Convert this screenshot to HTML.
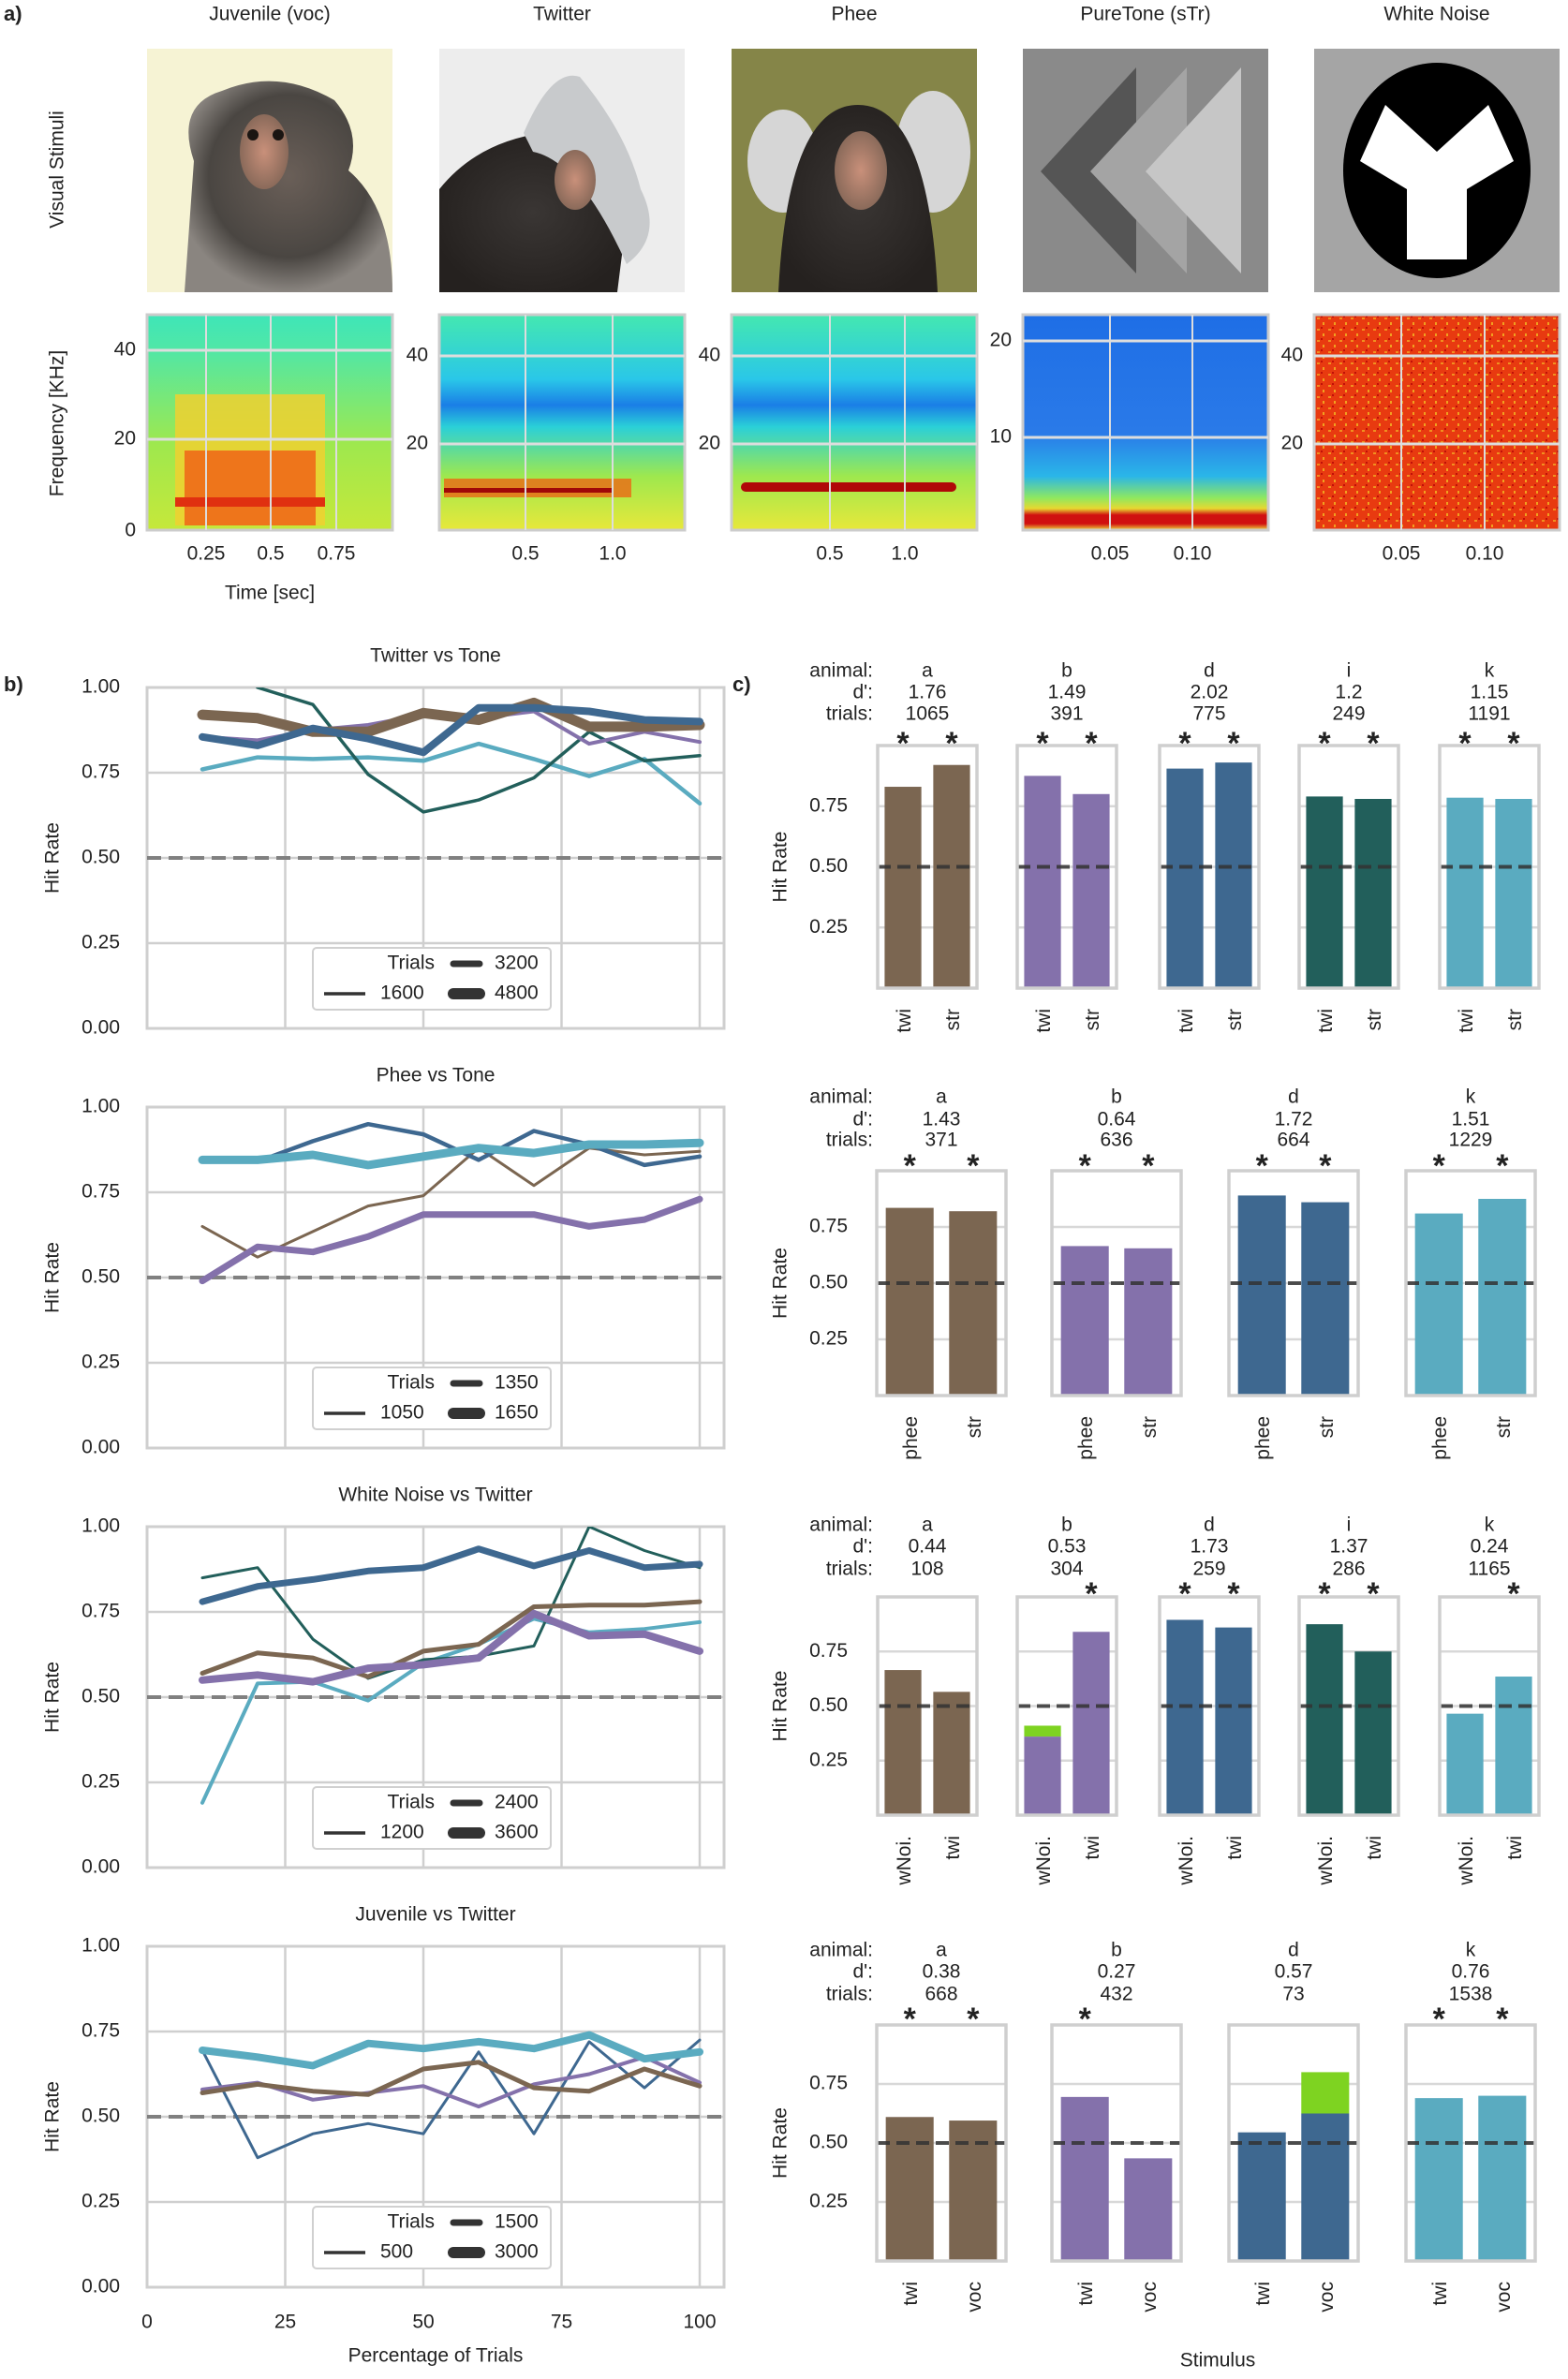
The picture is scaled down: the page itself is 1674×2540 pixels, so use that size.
<!DOCTYPE html>
<html><head><meta charset="utf-8">
<style>
html,body{margin:0;padding:0;background:#fff;}
svg{display:block;font-family:"Liberation Sans",Arial,sans-serif;}
</style></head>
<body>
<svg id="fig" width="1674" height="2540" viewBox="0 0 1674 2540" xmlns="http://www.w3.org/2000/svg">
<defs>
<radialGradient id="fur1" cx="50%" cy="45%" r="55%"><stop offset="0" stop-color="#6a5f58"/><stop offset="0.7" stop-color="#4a4642"/><stop offset="1" stop-color="#8a8580"/></radialGradient>
<radialGradient id="fur2" cx="50%" cy="50%" r="55%"><stop offset="0" stop-color="#3a3634"/><stop offset="1" stop-color="#25211f"/></radialGradient>
<radialGradient id="face" cx="50%" cy="50%" r="50%"><stop offset="0" stop-color="#c9907a"/><stop offset="1" stop-color="#8a6a5a"/></radialGradient>
<linearGradient id="sp1" x1="0" y1="0" x2="0" y2="1"><stop offset="0" stop-color="#3ee6b8"/><stop offset="0.15" stop-color="#4fe7a8"/><stop offset="0.6" stop-color="#9ee84e"/><stop offset="1" stop-color="#c6e83a"/></linearGradient>
<linearGradient id="sp2" x1="0" y1="0" x2="0" y2="1"><stop offset="0" stop-color="#44e8b0"/><stop offset="0.3" stop-color="#2ac7e8"/><stop offset="0.42" stop-color="#1a7ee6"/><stop offset="0.52" stop-color="#2ad0d8"/><stop offset="0.75" stop-color="#9ee84e"/><stop offset="1" stop-color="#e8e83a"/></linearGradient>
<linearGradient id="sp4" x1="0" y1="0" x2="0" y2="1"><stop offset="0" stop-color="#1e6ee6"/><stop offset="0.55" stop-color="#2a7ae8"/><stop offset="0.75" stop-color="#2ab6e8"/><stop offset="0.85" stop-color="#8ee860"/><stop offset="0.9" stop-color="#e8d830"/><stop offset="0.93" stop-color="#d01010"/><stop offset="0.97" stop-color="#d01010"/><stop offset="1" stop-color="#f0e040"/></linearGradient>
<pattern id="noise" width="12" height="12" patternUnits="userSpaceOnUse"><rect width="12" height="12" fill="#e83a10"/><rect x="2" y="3" width="3" height="2" fill="#f09020"/><rect x="8" y="8" width="2" height="3" fill="#f0a020"/><rect x="6" y="1" width="2" height="2" fill="#c01008"/></pattern>
</defs>
<g id="panelA"></g>
<g id="panelB"></g>
<g id="panelC"></g>
</svg>
<script>
// ---------- Panel b data ----------
const pctTrials = [10,20,30,40,50,60,70,80,90,100];
const bTitles = ["Twitter vs Tone","Phee vs Tone","White Noise vs Twitter","Juvenile vs Twitter"];
const bLegend1 = ["1600","3200","4800"];
const bLegend2 = ["1050","1350","1650"];
const bLegend3 = ["1200","2400","3600"];
const bLegend4 = ["500","1500","3000"];
// plot 1
const twTone_brown = [0.92,0.91,0.87,0.87,0.925,0.905,0.955,0.885,0.885,0.89];
const twTone_purple = [0.855,0.845,0.875,0.89,0.92,0.91,0.93,0.835,0.87,0.84];
const twTone_blue = [0.855,0.83,0.88,0.85,0.81,0.94,0.94,0.93,0.905,0.90];
const twTone_teal = [null,1.0,0.95,0.745,0.635,0.67,0.735,0.87,0.785,0.80];
const twTone_light = [0.76,0.795,0.79,0.795,0.785,0.835,0.79,0.74,0.79,0.66];
// plot 2
const phTone_brown = [0.65,0.56,0.635,0.71,0.74,0.88,0.77,0.88,0.86,0.87];
const phTone_purple = [0.49,0.59,0.575,0.62,0.685,0.685,0.685,0.65,0.67,0.73];
const phTone_blue = [0.84,0.84,0.9,0.95,0.92,0.845,0.93,0.89,0.83,0.855];
const phTone_light = [0.845,0.845,0.86,0.83,0.855,0.88,0.865,0.89,0.89,0.895];
// plot 3
const wnTw_brown = [0.57,0.63,0.615,0.56,0.635,0.655,0.765,0.77,0.77,0.78];
const wnTw_purple = [0.55,0.565,0.545,0.585,0.595,0.615,0.745,0.68,0.685,0.635];
const wnTw_blue = [0.78,0.825,0.845,0.87,0.88,0.935,0.885,0.93,0.88,0.89];
const wnTw_teal = [0.85,0.88,0.67,0.555,0.61,0.62,0.65,1.0,0.93,0.88];
const wnTw_light = [0.19,0.54,0.545,0.49,0.60,0.655,0.73,0.69,0.70,0.72];
// plot 4
const juTw_brown = [0.57,0.595,0.575,0.565,0.64,0.66,0.585,0.575,0.64,0.59];
const juTw_purple = [0.58,0.60,0.55,0.57,0.59,0.53,0.595,0.625,0.675,0.60];
const juTw_blue = [0.695,0.38,0.45,0.48,0.45,0.69,0.45,0.72,0.585,0.725];
const juTw_light = [0.695,0.675,0.65,0.715,0.70,0.72,0.70,0.74,0.67,0.69];
const xTickLabels = ["0","25","50","75","100"];
const xTickValues = [0,25,50,75,100];
const yTickValues = [0,0.25,0.5,0.75,1.0];
const yTickLabels = ["0.00","0.25","0.50","0.75","1.00"];

// ---------- Panel c data ----------
const r1Animals = ["a","b","d","i","k"];
const r1Dp = ["1.76","1.49","2.02","1.2","1.15"];
const r1Trials = ["1065","391","775","249","1191"];
const r1Cats = ["twi","str"];
const r1A = [0.83,0.875,0.905,0.79,0.785];
const r1B = [0.92,0.80,0.93,0.78,0.78];
const r1StarA = [1,1,1,1,1];
const r1StarB = [1,1,1,1,1];
const r2Animals = ["a","b","d","k"];
const r2Dp = ["1.43","0.64","1.72","1.51"];
const r2Trials = ["371","636","664","1229"];
const r2Cats = ["phee","str"];
const r2A = [0.835,0.665,0.89,0.81];
const r2B = [0.82,0.655,0.86,0.875];
const r2StarA = [1,1,1,1];
const r2StarB = [1,1,1,1];
const r3Animals = ["a","b","d","i","k"];
const r3Dp = ["0.44","0.53","1.73","1.37","0.24"];
const r3Trials = ["108","304","259","286","1165"];
const r3Cats = ["wNoi.","twi"];
const r3A = [0.665,0.36,0.895,0.875,0.465];
const r3B = [0.565,0.84,0.86,0.75,0.635];
const r3GreenA = [0,0.41,0,0,0];
const r3GreenB = [0,0,0,0,0];
const r3StarA = [0,0,1,1,0];
const r3StarB = [0,1,1,1,1];
const r4Animals = ["a","b","d","k"];
const r4Dp = ["0.38","0.27","0.57","0.76"];
const r4Trials = ["668","432","73","1538"];
const r4Cats = ["twi","voc"];
const r4A = [0.61,0.695,0.545,0.69];
const r4B = [0.595,0.435,0.625,0.70];
const r4GreenA = [0,0,0,0];
const r4GreenB = [0,0,0.80,0];
const r4StarA = [1,1,0,1];
const r4StarB = [1,0,0,1];
const cTicks = [0.25,0.5,0.75];
const cTickLabels = ["0.25","0.50","0.75"];

const NS = "http://www.w3.org/2000/svg";
function mk(tag, attrs, parent){
  const e = document.createElementNS(NS, tag);
  for (const k in attrs) e.setAttribute(k, attrs[k]);
  parent.appendChild(e);
  return e;
}
function txt(parent, x, y, s, size, anchor, extra){
  const t = mk("text", Object.assign({x:x, y:y, "font-size":size, "text-anchor":anchor||"middle", fill:"#222", "dominant-baseline":"middle"}, extra||{}), parent);
  t.textContent = s;
  return t;
}
const COL = {brown:"#7b6651", purple:"#8471ab", blue:"#3e6890", teal:"#225f5b", light:"#5aabc0"};

// ================= PANEL A =================
const A = document.getElementById("panelA");
let t = txt(A, 4, 16, "a)", 22, "start", {"font-weight":"bold"});


const colX = [157, 469, 781, 1092, 1403];
const colW = 262;
const colTitles = ["Juvenile (voc)","Twitter","Phee","PureTone (sTr)","White Noise"];
colTitles.forEach((s,i)=>{
  const e = txt(A, colX[i]+colW/2, 16, s, 21, "middle");
  
  
});
t = txt(A, 62, 181, "Visual Stimuli", 21, "middle", {transform:"rotate(-90 62 181)"});


t = txt(A, 62, 452, "Frequency [KHz]", 21, "middle", {transform:"rotate(-90 62 452)"});


t = txt(A, 288, 634, "Time [sec]", 21, "middle");



const iy = 52, ih = 260;
// image 1 juvenile
let g = mk("g", {}, A);


mk("rect",{x:colX[0],y:iy,width:colW,height:ih,fill:"#f6f3d4"},g);
mk("path",{d:`M${colX[0]+40} ${iy+260} L${colX[0]+50} ${iy+120} Q${colX[0]+30} ${iy+60} ${colX[0]+80} ${iy+45} Q${colX[0]+140} ${iy+20} ${colX[0]+200} ${iy+55} Q${colX[0]+230} ${iy+90} ${colX[0]+215} ${iy+130} Q${colX[0]+262} ${iy+170} ${colX[0]+262} ${iy+260} Z`,fill:"url(#fur1)"},g);
mk("ellipse",{cx:colX[0]+125,cy:iy+110,rx:26,ry:40,fill:"url(#face)"},g);
mk("circle",{cx:colX[0]+113,cy:iy+92,r:6,fill:"#1a1512"},g);
mk("circle",{cx:colX[0]+140,cy:iy+92,r:6,fill:"#1a1512"},g);
// image 2 twitter
g = mk("g", {}, A);


mk("rect",{x:colX[1],y:iy,width:colW,height:ih,fill:"#ededed"},g);
mk("path",{d:`M${colX[1]} ${iy+260} L${colX[1]} ${iy+150} Q${colX[1]+40} ${iy+100} ${colX[1]+110} ${iy+90} Q${colX[1]+180} ${iy+110} ${colX[1]+200} ${iy+180} L${colX[1]+190} ${iy+260} Z`,fill:"url(#fur2)"},g);
mk("path",{d:`M${colX[1]+90} ${iy+90} Q${colX[1]+120} ${iy+20} ${colX[1]+150} ${iy+30} Q${colX[1]+200} ${iy+90} ${colX[1]+215} ${iy+150} Q${colX[1]+240} ${iy+200} ${colX[1]+200} ${iy+230} Q${colX[1]+150} ${iy+120} ${colX[1]+100} ${iy+110} Z`,fill:"#c8cacc"},g);
mk("ellipse",{cx:colX[1]+145,cy:iy+140,rx:22,ry:32,fill:"url(#face)"},g);
// image 3 phee
g = mk("g", {}, A);


mk("rect",{x:colX[2],y:iy,width:colW,height:ih,fill:"#858548"},g);
mk("ellipse",{cx:colX[2]+55,cy:iy+120,rx:38,ry:55,fill:"#d6d6d6"},g);
mk("ellipse",{cx:colX[2]+215,cy:iy+110,rx:40,ry:65,fill:"#d6d6d6"},g);
mk("path",{d:`M${colX[2]+50} ${iy+260} Q${colX[2]+60} ${iy+60} ${colX[2]+135} ${iy+60} Q${colX[2]+210} ${iy+60} ${colX[2]+220} ${iy+260} Z`,fill:"url(#fur2)"},g);
mk("ellipse",{cx:colX[2]+138,cy:iy+130,rx:28,ry:42,fill:"url(#face)"},g);
// image 4 pure tone
g = mk("g", {}, A);


mk("rect",{x:colX[3],y:iy,width:colW,height:ih,fill:"#8a8a8a"},g);
const cx0 = colX[3];
const chTop = iy+20, chBot = iy+240, chMid = iy+131;
mk("polygon",{points:`${cx0+121},${chTop} ${cx0+19},${chMid} ${cx0+121},${chBot}`,fill:"#555"},g);
mk("polygon",{points:`${cx0+175},${chTop} ${cx0+72},${chMid} ${cx0+175},${chBot}`,fill:"#a4a4a4"},g);
mk("polygon",{points:`${cx0+233},${chTop} ${cx0+131},${chMid} ${cx0+233},${chBot}`,fill:"#c6c6c6"},g);
// image 5 white noise
g = mk("g", {}, A);


mk("rect",{x:colX[4],y:iy,width:colW,height:ih,fill:"#a5a5a5"},g);
const c5 = colX[4]+131;
mk("ellipse",{cx:c5,cy:iy+130,rx:100,ry:115,fill:"#000"},g);
mk("path",{d:`M${c5-55} ${iy+60} L${c5} ${iy+110} L${c5+55} ${iy+60} L${c5+82} ${iy+120} L${c5+32} ${iy+150} L${c5+32} ${iy+225} L${c5-32} ${iy+225} L${c5-32} ${iy+150} L${c5-82} ${iy+120} Z`,fill:"#fff"},g);

// spectrograms
const sy = 336, sh = 230;
const specFill = ["url(#sp1)","url(#sp2)","url(#sp2)","url(#sp4)","url(#noise)"];
const specYT = [[["40",374],["20",469],["0",567]],[["40",380],["20",474]],[["40",380],["20",474]],[["20",364],["10",467]],[["40",380],["20",474]]];
const specXT = [[["0.25",220],["0.5",289],["0.75",359]],[["0.5",561],["1.0",654]],[["0.5",886],["1.0",966]],[["0.05",1185],["0.10",1273]],[["0.05",1496],["0.10",1585]]];
for (let i=0;i<5;i++){
  const sg = mk("g", {}, A);
  
  
  mk("rect",{x:colX[i],y:sy,width:colW,height:sh,fill:specFill[i],stroke:"#ccc","stroke-width":3},sg);
  if (i===0){
    mk("rect",{x:colX[0]+30,y:sy+85,width:160,height:140,fill:"#f0d030",opacity:0.85},sg);
    mk("rect",{x:colX[0]+40,y:sy+145,width:140,height:80,fill:"#ee6a18",opacity:0.9},sg);
    mk("rect",{x:colX[0]+30,y:sy+195,width:160,height:10,fill:"#e03010"},sg);
  }
  if (i===1){
    mk("rect",{x:colX[1]+5,y:sy+175,width:200,height:20,fill:"#e87018",opacity:0.85},sg);
    mk("rect",{x:colX[1]+5,y:sy+185,width:180,height:5,fill:"#a00808"},sg);
  }
  if (i===2){
    mk("rect",{x:colX[2]+10,y:sy+179,width:230,height:10,rx:5,fill:"#b00808"},sg);
  }
  specXT[i].forEach(p=>mk("line",{x1:p[1],x2:p[1],y1:sy,y2:sy+sh,stroke:"#ddd","stroke-width":2},sg));
  specYT[i].forEach(p=>{ if(p[0]!=="0") mk("line",{x1:colX[i],x2:colX[i]+colW,y1:p[1],y2:p[1],stroke:"#ddd","stroke-width":3},sg); });
  specYT[i].forEach(p=>txt(sg, colX[i]-12, p[1], p[0], 21, "end"));
  specXT[i].forEach(p=>txt(sg, p[1], 592, p[0], 21, "middle"));
}

// ================= PANEL B =================
const B = document.getElementById("panelB");
t = txt(B, 4, 732, "b)", 22, "start", {"font-weight":"bold"});


const bX0 = 157, bXs = 5.9, bRight = 773, bUnit = 364;
const bTops = [734,1182,1630,2078];
function bx(v){ return bX0 + bXs*v; }
const bSeries = [
  [[twTone_light,COL.light,4.5],[twTone_teal,COL.teal,3.5],[twTone_purple,COL.purple,4],[twTone_brown,COL.brown,11],[twTone_blue,COL.blue,8]],
  [[phTone_brown,COL.brown,3],[phTone_purple,COL.purple,7],[phTone_blue,COL.blue,4.5],[phTone_light,COL.light,9]],
  [[wnTw_light,COL.light,4],[wnTw_teal,COL.teal,3],[wnTw_brown,COL.brown,5],[wnTw_purple,COL.purple,8],[wnTw_blue,COL.blue,7]],
  [[juTw_blue,COL.blue,3],[juTw_purple,COL.purple,4],[juTw_brown,COL.brown,5],[juTw_light,COL.light,8]]
];
const bLegends = [bLegend1,bLegend2,bLegend3,bLegend4];
const seriesNames = {};
seriesNames[COL.brown]="animal-a"; seriesNames[COL.purple]="animal-b"; seriesNames[COL.blue]="animal-d"; seriesNames[COL.teal]="animal-i"; seriesNames[COL.light]="animal-k";
for (let p=0;p<4;p++){
  const top = bTops[p];
  const by = v => top + (1-v)*bUnit;
  const pg = mk("g", {}, B);
  
  
  const tt = txt(pg, 465, top-33, bTitles[p], 21, "middle");
  
  
  mk("clipPath",{id:"clip"+p},pg);
  mk("rect",{x:bX0,y:top,width:bRight-bX0,height:bUnit},pg.lastChild);
  xTickValues.forEach(v=>{ if(v>0) mk("line",{x1:bx(v),x2:bx(v),y1:top,y2:top+bUnit,stroke:"#cfcfcf","stroke-width":2.5},pg); });
  yTickValues.forEach(v=>{ if(v>0&&v<1) mk("line",{x1:bX0,x2:bRight,y1:by(v),y2:by(v),stroke:"#cfcfcf","stroke-width":2.5},pg); });
  mk("rect",{x:bX0,y:top,width:bRight-bX0,height:bUnit,fill:"none",stroke:"#cfcfcf","stroke-width":3},pg);
  yTickValues.forEach((v,i)=>txt(pg, 128, by(v), yTickLabels[i], 21, "end"));
  if (p===3) xTickValues.forEach((v,i)=>txt(pg, bx(v), 2480, xTickLabels[i], 21, "middle"));
  const yl = txt(pg, 57, top+bUnit/2, "Hit Rate", 21, "middle", {transform:`rotate(-90 57 ${top+bUnit/2})`});
  
  
  mk("line",{x1:bX0,x2:bRight,y1:by(0.5),y2:by(0.5),stroke:"#808080","stroke-width":4,"stroke-dasharray":"15 8"},pg);
  const lg = mk("g",{"clip-path":`url(#clip${p})`},pg);
  bSeries[p].forEach(s=>{
    const arr = s[0]; let d = "";
    arr.forEach((v,i)=>{ if(v===null) return; d += (d===""?"M":"L") + bx(pctTrials[i]).toFixed(1) + " " + by(v).toFixed(1) + " "; });
    const path = mk("path",{d:d,fill:"none",stroke:s[1],"stroke-width":s[2],"stroke-linejoin":"round","stroke-linecap":"round"},lg);
    
    
  });
  const ly = top + 278;
  const leg = mk("g",{},pg);
  
  
  mk("rect",{x:334,y:ly,width:254,height:66,rx:4,fill:"#fff",stroke:"#d0d0d0","stroke-width":2},leg);
  txt(leg, 464, ly+17, "Trials", 21, "end");
  mk("line",{x1:484,x2:512,y1:ly+17,y2:ly+17,stroke:"#333","stroke-width":7,"stroke-linecap":"round"},leg);
  txt(leg, 528, ly+17, bLegends[p][1], 21, "start");
  mk("line",{x1:346,x2:390,y1:ly+49,y2:ly+49,stroke:"#333","stroke-width":3.5},leg);
  txt(leg, 406, ly+49, bLegends[p][0], 21, "start");
  mk("line",{x1:484,x2:512,y1:ly+49,y2:ly+49,stroke:"#333","stroke-width":12,"stroke-linecap":"round"},leg);
  txt(leg, 528, ly+49, bLegends[p][2], 21, "start");
}
t = txt(B, 465, 2516, "Percentage of Trials", 21, "middle");



// ================= PANEL C =================
const C = document.getElementById("panelC");
t = txt(C, 782, 732, "c)", 22, "start", {"font-weight":"bold"});


const left5 = [937,1086,1238,1387,1537], left4 = [936,1123,1312,1501];
const colors5 = [COL.brown,COL.purple,COL.blue,COL.teal,COL.light];
const colors4 = [COL.brown,COL.purple,COL.blue,COL.light];
const rows = [
  {top:796,bot:1055,lefts:left5,w:106,an:r1Animals,dp:r1Dp,tr:r1Trials,cats:r1Cats,A:r1A,B:r1B,gA:null,gB:null,sA:r1StarA,sB:r1StarB,hy:[717,740,763],sy:792,cols:colors5},
  {top:1250,bot:1490,lefts:left4,w:138,an:r2Animals,dp:r2Dp,tr:r2Trials,cats:r2Cats,A:r2A,B:r2B,gA:null,gB:null,sA:r2StarA,sB:r2StarB,hy:[1172,1196,1218],sy:1243,cols:colors4},
  {top:1705,bot:1938,lefts:left5,w:106,an:r3Animals,dp:r3Dp,tr:r3Trials,cats:r3Cats,A:r3A,B:r3B,gA:r3GreenA,gB:r3GreenB,sA:r3StarA,sB:r3StarB,hy:[1629,1652,1676],sy:1700,cols:colors5},
  {top:2162,bot:2414,lefts:left4,w:138,an:r4Animals,dp:r4Dp,tr:r4Trials,cats:r4Cats,A:r4A,B:r4B,gA:r4GreenA,gB:r4GreenB,sA:r4StarA,sB:r4StarB,hy:[2083,2106,2130],sy:2154,cols:colors4}
];
rows.forEach((R,ri)=>{
  const rg = mk("g",{},C);
  
  
  const unit = R.bot - R.top;
  const cy = v => R.bot - v*unit;
  txt(rg, 932, R.hy[0], "animal:", 21, "end");
  txt(rg, 932, R.hy[1], "d':", 21, "end");
  txt(rg, 932, R.hy[2], "trials:", 21, "end");
  cTicks.forEach((v,i)=>txt(rg, 905, cy(v), cTickLabels[i], 21, "end"));
  const yl = txt(rg, 834, (R.top+R.bot)/2, "Hit Rate", 21, "middle", {transform:`rotate(-90 834 ${(R.top+R.bot)/2})`});
  
  
  R.lefts.forEach((L,k)=>{
    const sg = mk("g",{},rg);
    
    
    const W = R.w, cx = L + W/2;
    txt(sg, cx, R.hy[0], R.an[k], 21, "middle");
    txt(sg, cx, R.hy[1], R.dp[k], 21, "middle");
    txt(sg, cx, R.hy[2], R.tr[k], 21, "middle");
    cTicks.forEach(v=>mk("line",{x1:L,x2:L+W,y1:cy(v),y2:cy(v),stroke:"#d8d8d8","stroke-width":2.5},sg));
    const bw = W*0.37, xa = L + W*0.07, xb = L + W*0.56;
    const vals = [R.A[k], R.B[k]], xs = [xa, xb], greens = [R.gA?R.gA[k]:0, R.gB?R.gB[k]:0], stars=[R.sA[k],R.sB[k]];
    for (let j=0;j<2;j++){
      if (greens[j]>0){
        const gr = mk("rect",{x:xs[j],y:cy(greens[j]),width:bw,height:cy(vals[j])-cy(greens[j]),fill:"#7ed321"},sg);
        
        
      }
      const br = mk("rect",{x:xs[j],y:cy(vals[j]),width:bw,height:R.bot-cy(vals[j]),fill:R.cols[k]},sg);
      
      
      if (stars[j]){ const st = txt(sg, xs[j]+bw/2, R.sy+4, "*", 34, "middle", {"font-weight":"bold"});   }
      const xl = xs[j]+bw/2 + 8, yl2 = R.bot + 22;
      txt(sg, xl, yl2, R.cats[j], 21, "end", {transform:`rotate(-90 ${xl} ${yl2})`, "dominant-baseline":"auto"});
    }
    mk("line",{x1:L,x2:L+W,y1:cy(0.5),y2:cy(0.5),stroke:"#333","stroke-width":4,"stroke-dasharray":"14 7",opacity:0.85},sg);
    mk("rect",{x:L,y:R.top,width:W,height:unit,fill:"none",stroke:"#cfcfcf","stroke-width":3.5},sg);
  });
});
t = txt(C, 1300, 2521, "Stimulus", 21, "middle");


</script>
</body></html>
